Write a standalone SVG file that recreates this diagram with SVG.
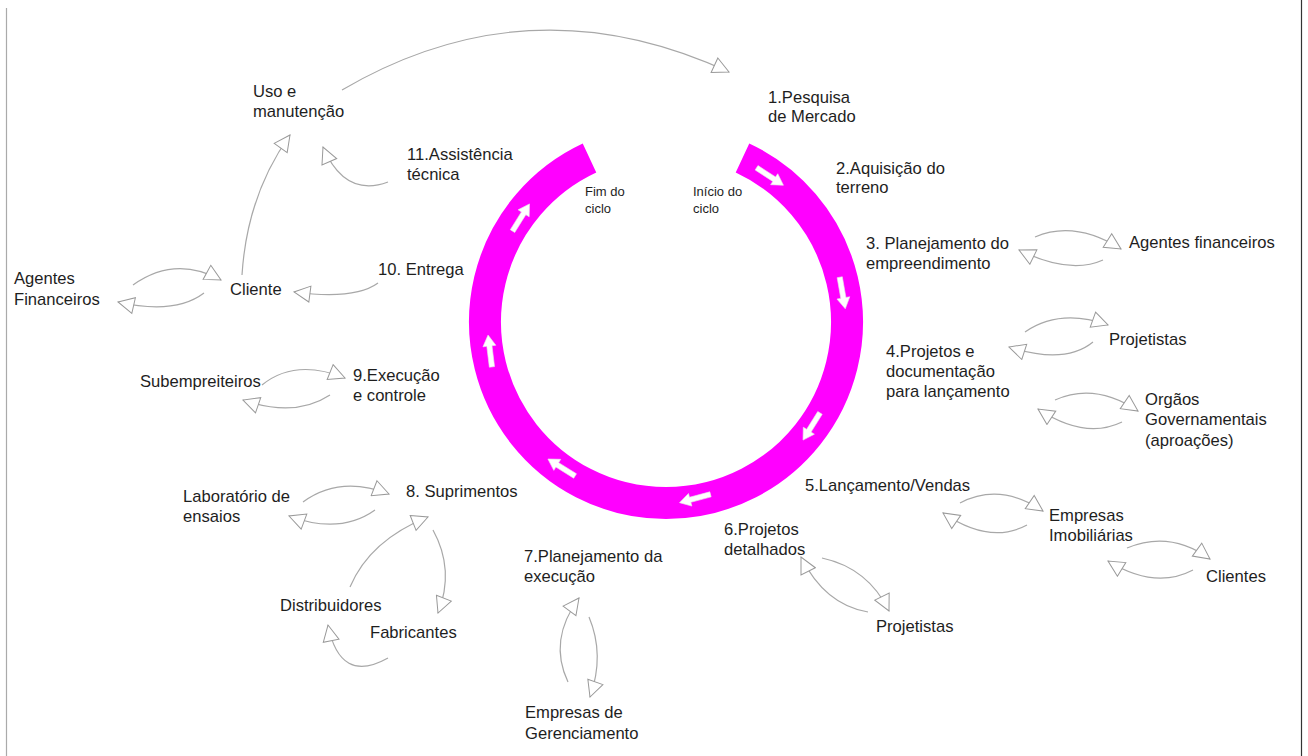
<svg xmlns="http://www.w3.org/2000/svg" width="1308" height="756" viewBox="0 0 1308 756">
<style>
  text { font-family: "Liberation Sans", Arial, sans-serif; font-size: 16.6px; fill: #1e1e1e; }
  text.small { font-size: 13px; }
  .c { fill: none; stroke: #a8a8a8; stroke-width: 1.2; marker-end: url(#tri); }
  .ring { fill: none; stroke: #ff00ff; stroke-width: 32; stroke-linecap: butt; }
  .wa { fill: #fff; stroke: #e8e8e8; stroke-width: 0.6; }
</style>
<defs>
  <marker id="tri" viewBox="0 0 18 18" refX="17" refY="9" markerWidth="18" markerHeight="18" markerUnits="userSpaceOnUse" orient="auto">
    <path d="M1,1 L17,9 L1,17 Z" fill="#fff" stroke="#999" stroke-width="1"/>
  </marker>
  <path id="warrow" d="M-16,-2.6 L5,-2.6 L5,-6.5 L16,0 L5,6.5 L5,2.6 L-16,2.6 Z"/>
</defs>
<rect x="0" y="0" width="1308" height="756" fill="#fff"/>
<line x1="6.5" y1="8" x2="6.5" y2="756" stroke="#aaa" stroke-width="1.2"/>
<line x1="1301.5" y1="0" x2="1301.5" y2="756" stroke="#333" stroke-width="1.2"/>

<g id="ring">
  <path class="ring" d="M 742.5 158 A 181 181 0 1 1 589.5 158"/>
  <use href="#warrow" class="wa" transform="translate(770,176.5) rotate(33)"/>
  <use href="#warrow" class="wa" transform="translate(842.5,293) rotate(80)"/>
  <use href="#warrow" class="wa" transform="translate(811.5,426.5) rotate(122)"/>
  <use href="#warrow" class="wa" transform="translate(695,498.5) rotate(165)"/>
  <use href="#warrow" class="wa" transform="translate(561.5,467.5) rotate(212)"/>
  <use href="#warrow" class="wa" transform="translate(490,351) rotate(-97)"/>
  <use href="#warrow" class="wa" transform="translate(521,217.5) rotate(-58)"/>
</g>

<g id="connectors">
  <path class="c" d="M 342 90 Q 530 -20 729 72"/>
  <path class="c" d="M 388 182 Q 345 198 323 147"/>
  <path class="c" d="M 242 275 Q 247 195 290 135"/>
  <path class="c" d="M 378 283 Q 355 300 294 292"/>
  <path class="c" d="M 133 285 Q 175 255 221 280"/>
  <path class="c" d="M 204 293 Q 175 315 118 302"/>
  <path class="c" d="M 1035 237 Q 1075 220 1121 249"/>
  <path class="c" d="M 1103 260 Q 1070 275 1019 250"/>
  <path class="c" d="M 1025 332 Q 1060 308 1108 325"/>
  <path class="c" d="M 1093 342 Q 1065 365 1009 347"/>
  <path class="c" d="M 1055 400 Q 1095 382 1138 411"/>
  <path class="c" d="M 1122 422 Q 1085 440 1038 409"/>
  <path class="c" d="M 960 503 Q 1000 482 1043 511"/>
  <path class="c" d="M 1027 525 Q 990 545 943 513"/>
  <path class="c" d="M 1127 548 Q 1170 530 1210 559"/>
  <path class="c" d="M 1193 570 Q 1155 590 1108 561"/>
  <path class="c" d="M 822 558 Q 868 568 889 611"/>
  <path class="c" d="M 868 612 Q 825 605 801 557"/>
  <path class="c" d="M 568 682 Q 548 640 579 598"/>
  <path class="c" d="M 589 617 Q 605 655 590 697"/>
  <path class="c" d="M 303 502 Q 340 475 389 494"/>
  <path class="c" d="M 375 510 Q 340 535 289 516"/>
  <path class="c" d="M 350 587 Q 370 540 428 517"/>
  <path class="c" d="M 433 530 Q 455 570 438 613"/>
  <path class="c" d="M 388 658 Q 340 685 328 625"/>
  <path class="c" d="M 262 385 Q 295 358 345 378"/>
  <path class="c" d="M 330 395 Q 295 418 243 400"/>
</g>

<g id="inicio"><text class="small" x="693" y="196">Início do</text><text class="small" x="693" y="213">ciclo</text></g>
<g id="fim"><text class="small" x="585" y="196">Fim do</text><text class="small" x="585" y="213">ciclo</text></g>

<g id="n1"><text x="768" y="103">1.Pesquisa</text><text x="768" y="122">de Mercado</text></g>
<g id="n2"><text x="836" y="174">2.Aquisição do</text><text x="836" y="193">terreno</text></g>
<g id="n3"><text x="866" y="249">3. Planejamento do</text><text x="866" y="269">empreendimento</text></g>
<g id="agentes-fin"><text x="1129" y="248">Agentes financeiros</text></g>
<g id="projetistas1"><text x="1109" y="345">Projetistas</text></g>
<g id="n4"><text x="886" y="357">4.Projetos e</text><text x="886" y="377">documentação</text><text x="886" y="397">para lançamento</text></g>
<g id="orgaos"><text x="1145" y="405">Orgãos</text><text x="1145" y="425">Governamentais</text><text x="1145" y="446">(aproações)</text></g>
<g id="n5"><text x="805" y="491">5.Lançamento/Vendas</text></g>
<g id="imobiliarias"><text x="1049" y="521">Empresas</text><text x="1049" y="541">Imobiliárias</text></g>
<g id="clientes"><text x="1206" y="582">Clientes</text></g>
<g id="n6"><text x="724" y="535">6.Projetos</text><text x="724" y="555">detalhados</text></g>
<g id="projetistas2"><text x="876" y="632">Projetistas</text></g>
<g id="n7"><text x="524" y="562">7.Planejamento da</text><text x="524" y="582">execução</text></g>
<g id="gerenciamento"><text x="525" y="718">Empresas de</text><text x="525" y="739">Gerenciamento</text></g>
<g id="n8"><text x="406" y="497">8. Suprimentos</text></g>
<g id="laboratorio"><text x="183" y="502">Laboratório de</text><text x="183" y="522">ensaios</text></g>
<g id="distribuidores"><text x="280" y="611">Distribuidores</text></g>
<g id="fabricantes"><text x="370" y="638">Fabricantes</text></g>
<g id="subempreiteiros"><text x="140" y="387">Subempreiteiros</text></g>
<g id="n9"><text x="353" y="381">9.Execução</text><text x="353" y="401">e controle</text></g>
<g id="n10"><text x="378" y="275">10. Entrega</text></g>
<g id="cliente"><text x="230" y="295">Cliente</text></g>
<g id="agentes-financeiros"><text x="14" y="284">Agentes</text><text x="14" y="305">Financeiros</text></g>
<g id="uso"><text x="253" y="97">Uso e</text><text x="253" y="117">manutenção</text></g>
<g id="n11"><text x="407" y="160">11.Assistência</text><text x="407" y="180">técnica</text></g>
</svg>
